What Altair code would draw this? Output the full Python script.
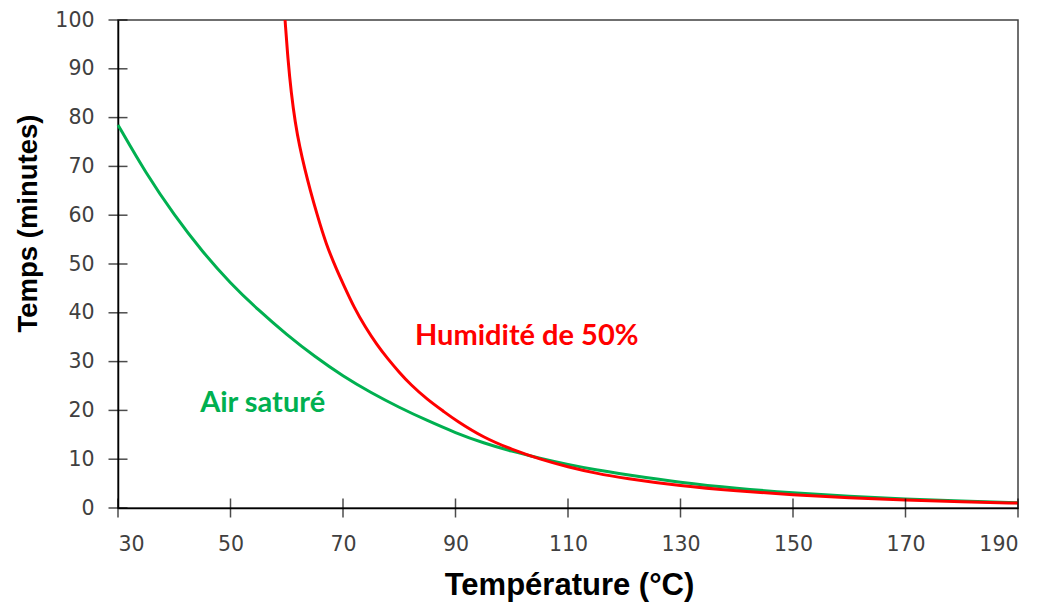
import altair as alt
import pandas as pd

# ---- data ----
green_T = [30, 35, 40, 45, 50, 55, 60, 65, 70, 75, 80, 85, 90, 95, 100, 105, 110, 115, 120, 130, 140, 150, 160, 170, 180, 190]
green_v = [78.5, 68.5, 60, 52.5, 46, 40.5, 35.5, 31, 27, 23.6, 20.6, 17.9, 15.4, 13.3, 11.6, 10.2, 8.9, 7.8, 6.9, 5.2, 4.0, 3.1, 2.4, 1.8, 1.4, 1.1]

red_T = [59.7, 60.2, 60.8, 61.5, 62.3, 63.2, 64.2, 65.3, 67, 69, 70, 72, 74, 76, 78, 80, 82, 85, 88, 90, 95, 100, 105, 110, 115, 120, 130, 140, 150, 160, 170, 180, 190]
red_v = [100, 92, 85, 79, 74, 69.5, 65, 60.5, 54, 48.5, 46, 41, 37, 33.5, 30.5, 27.8, 25.3, 22.2, 19.7, 18.0, 14.4, 12.0, 10.0, 8.4, 7.1, 6.1, 4.5, 3.5, 2.7, 2.1, 1.6, 1.3, 1.0]

series_names = ["Air saturé", "Humidité de 50%"]
series_colors = ["#00B050", "#FF0000"]

x_ticks = [30, 50, 70, 90, 110, 130, 150, 170, 190]
y_ticks = [0, 10, 20, 30, 40, 50, 60, 70, 80, 90, 100]

label_text = ["Humidité de 50%", "Air saturé"]
label_T = [82.8, 44.6]
label_v = [33.3, 19.7]

# ---- tables ----
df = pd.concat([
    pd.DataFrame({"T": green_T, "v": green_v, "s": series_names[0], "o": range(len(green_T))}),
    pd.DataFrame({"T": red_T, "v": red_v, "s": series_names[1], "o": range(len(red_T))}),
])
lab = pd.DataFrame({"T": label_T, "v": label_v, "s": label_text})
xt = pd.DataFrame({"T": x_ticks, "v": [0] * len(x_ticks)})
yt = pd.DataFrame({"T": [30] * len(y_ticks), "v": y_ticks})

xscale = alt.Scale(domain=[30, 190], nice=False, zero=False)
yscale = alt.Scale(domain=[0, 100], nice=False)
cscale = alt.Scale(domain=series_names, range=series_colors)

xaxis = alt.Axis(values=x_ticks, grid=False, ticks=False, domainColor="black", domainWidth=1.5,
                 labelFont="DejaVu Sans", labelFontSize=20.5, labelColor="#404040", labelPadding=26,
                 title="Température (°C)", titleFont="Liberation Sans", titleFontWeight="bold",
                 titleFontSize=31, titleColor="black", titleX=451, titleY=86,
                 titleBaseline="alphabetic", titleAlign="center")
yaxis = alt.Axis(values=y_ticks, grid=False, ticks=False, domainColor="black", domainWidth=1.5,
                 labelFont="DejaVu Sans", labelFontSize=20.5, labelColor="#404040", labelPadding=24,
                 title="Temps (minutes)", titleFont="Liberation Sans", titleFontWeight="bold",
                 titleFontSize=27.5, titleColor="black", titleX=-90, titleY=203,
                 titleBaseline="middle", titleAlign="center", titleAngle=-90)

lines = alt.Chart(df).mark_line(strokeWidth=3, interpolate="basis").encode(
    x=alt.X("T:Q", scale=xscale, axis=xaxis),
    y=alt.Y("v:Q", scale=yscale, axis=yaxis),
    color=alt.Color("s:N", scale=cscale, legend=None),
    detail="s:N",
    order="o:Q",
)

texts = alt.Chart(lab).mark_text(font="Lato", fontWeight="bold", fontSize=29, align="left",
                                 baseline="alphabetic").encode(
    x=alt.X("T:Q", scale=xscale),
    y=alt.Y("v:Q", scale=yscale),
    text="s:N",
    color=alt.Color("s:N", scale=cscale, legend=None),
)

xticks_m = alt.Chart(xt).mark_tick(orient="vertical", size=19, thickness=1.5, color="black").encode(
    x=alt.X("T:Q", scale=xscale), y=alt.Y("v:Q", scale=yscale))
yticks_m = alt.Chart(yt).mark_tick(orient="horizontal", size=19, thickness=1.5, color="black").encode(
    x=alt.X("T:Q", scale=xscale), y=alt.Y("v:Q", scale=yscale))

chart = alt.layer(lines, texts, xticks_m, yticks_m).properties(
    width=900, height=488,
    autosize=alt.AutoSizeParams(type="none"),
    padding={"left": 110, "top": 12, "right": 16, "bottom": 96},
    background="white",
).configure_view(stroke="#404040", strokeWidth=1.5)

chart.save("out.html", embed_options={"renderer": "svg", "actions": False})
